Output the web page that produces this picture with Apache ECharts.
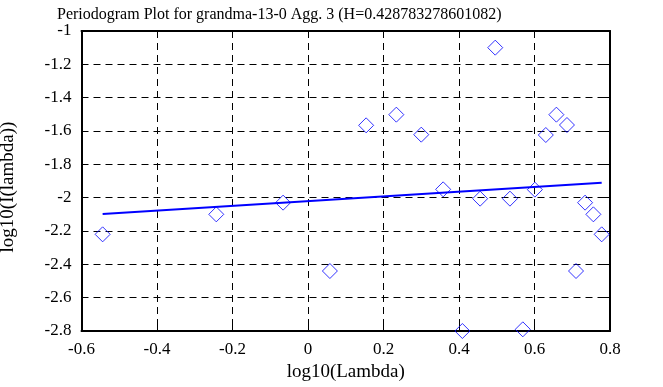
<!DOCTYPE html>
<html><head><meta charset="utf-8">
<script src="https://cdn.jsdelivr.net/npm/echarts@6/dist/echarts.min.js"></script>
<style>html,body{margin:0;padding:0;background:#fff}#c{width:663px;height:387px}</style>
</head><body><div id="c"></div>
<script>
const titleText = "Periodogram Plot for grandma-13-0 Agg. 3 (H=0.428783278601082)";
const xLabel = "log10(Lambda)";
const yLabel = "log10(I(lambda))";
const pointX = [-0.544,-0.243,-0.066,0.058,0.154,0.234,0.300,0.358,0.496,0.456,0.535,0.601,0.630,0.658,0.686,0.734,0.756,0.778,0.710,0.409,0.569];
const pointY = [-2.22,-2.10,-2.03,-2.44,-1.566,-1.502,-1.622,-1.95,-1.10,-2.006,-2.006,-1.952,-1.624,-1.502,-1.564,-2.03,-2.10,-2.22,-2.44,-2.80,-2.79];
const lineX = [-0.544, 0.778];
const lineY = [-2.098, -1.910];

const chart = echarts.init(document.getElementById('c'), null, {renderer:'canvas'});
const font = '"Liberation Serif", "Times New Roman", serif';
const axisCommon = {
  axisLine:{show:true, onZero:false, lineStyle:{color:'#000', width:2}},
  axisTick:{show:true, inside:true, length:6, lineStyle:{color:'#000', width:1}},
  splitLine:{show:false}
};
chart.setOption({
  animation:false,
  backgroundColor:'#fff',
  title:{text:titleText, left:52, top:2, textStyle:{fontFamily:font, fontSize:16, fontWeight:'normal', color:'#000'}},
  grid:{left:81.5, right:53, top:31, bottom:56, show:false, containLabel:false, outerBoundsMode:'none'},
  xAxis:[
    Object.assign({type:'value', min:-0.6, max:0.8, interval:0.2, position:'bottom',
      name:xLabel, nameLocation:'middle', nameGap:29,
      nameTextStyle:{fontFamily:font, fontSize:19, color:'#000', verticalAlign:'top'},
      axisLabel:{fontFamily:font, fontSize:17, color:'#000', margin:10}}, axisCommon,
      {splitLine:{show:true, lineStyle:{color:'#000', type:[7,5], width:1}}}),
    Object.assign({type:'value', min:-0.6, max:0.8, interval:0.2, position:'top', axisLabel:{show:false}}, axisCommon)
  ],
  yAxis:[
    Object.assign({type:'value', min:-2.8, max:-1, interval:0.2, position:'left',
      name:yLabel, nameLocation:'middle', nameGap:64,
      nameTextStyle:{fontFamily:font, fontSize:19, color:'#000', padding:[0,12,0,0]},
      axisLabel:{fontFamily:font, fontSize:17, color:'#000', margin:10}}, axisCommon,
      {splitLine:{show:true, lineStyle:{color:'#000', type:[7,5], width:1}}}),
    Object.assign({type:'value', min:-2.8, max:-1, interval:0.2, position:'right', axisLabel:{show:false}}, axisCommon)
  ],
  series:[
    {type:'line', data:lineX.map((x,i)=>[x,lineY[i]]), showSymbol:false, symbol:'none',
     lineStyle:{color:'#0000ff', width:2}, z:3},
    {type:'scatter', data:pointX.map((x,i)=>[x,pointY[i]]), symbol:'diamond', symbolSize:[15,15],
     itemStyle:{color:'rgba(0,0,0,0)', borderColor:'#0000ff', borderWidth:1}, z:4, clip:false}
  ]
});
</script></body></html>
